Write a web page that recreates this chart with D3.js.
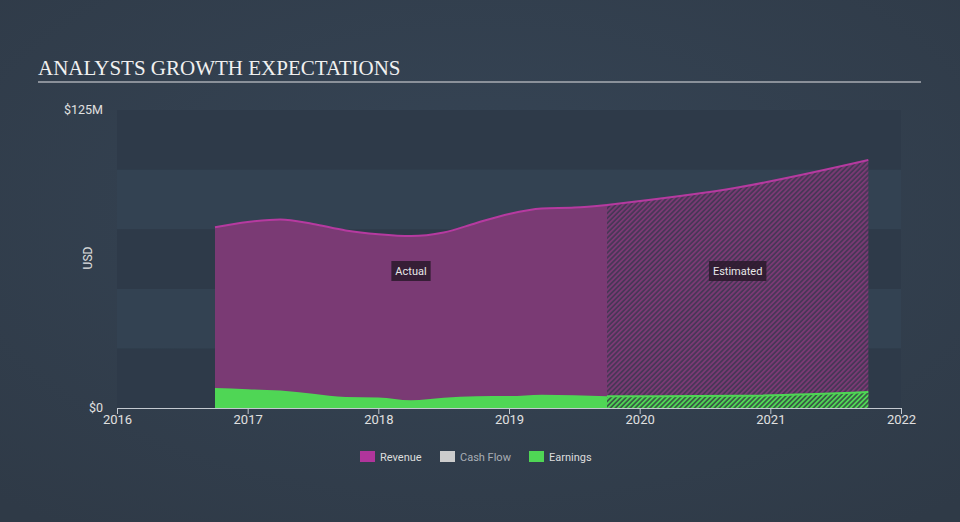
<!DOCTYPE html>
<html><head><meta charset="utf-8">
<script src="https://cdn.jsdelivr.net/npm/d3@7"></script>
<style>
html,body{margin:0;padding:0;background:#323f4e;}
svg{display:block;}
</style></head>
<body>
<svg id="c" width="960" height="522"></svg>
<script>
// Data
const revenueDates = [2016.75,2017.0,2017.25,2017.5,2017.75,2018.0,2018.25,2018.5,2018.75,2019.0,2019.25,2019.5,2019.75];
const revenueValues = [75.8,78.0,79.1,77.2,74.5,72.9,72.1,73.6,77.6,81.4,83.7,84.1,85.2];
const revenueEstDates = [2019.75,2020.75,2021.75];
const revenueEstValues = [85.2,92.5,104.0];
const earningsDates = [2016.75,2017.0,2017.25,2017.5,2017.75,2018.0,2018.25,2018.5,2018.75,2019.0,2019.25,2019.5,2019.75];
const earningsValues = [8.4,7.9,7.3,6.0,4.6,4.4,3.2,4.3,4.9,5.0,5.6,5.3,4.9];
const earningsEstDates = [2019.75,2020.75,2021.75];
const earningsEstValues = [4.9,5.1,6.7];
const xTicks = [2016,2017,2018,2019,2020,2021,2022];
const yTickLabels = ["$0","$125M"];
const legendItems = ["Revenue","Cash Flow","Earnings"];

const svg = d3.select("#c");
const W=960,H=522;
const m={left:117,right:901,top:110,bottom:408};

const defs = svg.append("defs");
const rg = defs.append("radialGradient").attr("id","bg").attr("cx","50%").attr("cy","40%").attr("r","75%");
rg.append("stop").attr("offset","0%").attr("stop-color","#364556");
rg.append("stop").attr("offset","100%").attr("stop-color","#2f3a47");
svg.append("rect").attr("width",W).attr("height",H).attr("fill","url(#bg)");

function hatch(id, bg, fg){
  const p = defs.append("pattern").attr("id",id).attr("patternUnits","userSpaceOnUse")
    .attr("width",3.5).attr("height",3.5).attr("patternTransform","rotate(45)");
  p.append("rect").attr("width",3.5).attr("height",3.5).attr("fill",bg);
  p.append("rect").attr("width",1.8).attr("height",3.5).attr("fill",fg);
}
hatch("hRev","#473656","#7a3a74");
hatch("hEarn","#385a44","#4fd655");

const x = d3.scaleLinear().domain([2016,2022]).range([m.left,m.right]);
const y = d3.scaleLinear().domain([0,125]).range([m.bottom,m.top]);

// bands
const bandVals = d3.range(0,125,25);
svg.selectAll("rect.band").data(bandVals).enter().append("rect")
  .attr("x",m.left).attr("width",m.right-m.left)
  .attr("y",d=>y(d+25)).attr("height",d=>y(d)-y(d+25))
  .attr("fill",(d,i)=> i%2===0 ? "#2e3a49" : "#334252");

// title
svg.append("text").attr("x",38).attr("y",75).text("ANALYSTS GROWTH EXPECTATIONS")
  .attr("font-family","Liberation Serif, Times New Roman, serif").attr("font-size",21)
  .attr("fill","#f0f0f0");
svg.append("line").attr("x1",38).attr("x2",921).attr("y1",82).attr("y2",82)
  .attr("stroke","#a9adb3").attr("stroke-width",1.5);

const curve = d3.curveMonotoneX;
const zip=(ds,vs)=>ds.map((d,i)=>({t:d,v:vs[i]}));
const revA = zip(revenueDates,revenueValues);
const revE = zip(revenueEstDates,revenueEstValues);
const earA = zip(earningsDates,earningsValues);
const earE = zip(earningsEstDates,earningsEstValues);

const area = d3.area().x(d=>x(d.t)).y0(y(0)).y1(d=>y(d.v)).curve(curve);
const line = d3.line().x(d=>x(d.t)).y(d=>y(d.v)).curve(curve);

svg.append("path").attr("d",area(revA)).attr("fill","#7a3a74");
svg.append("path").attr("d",area(revE)).attr("fill","url(#hRev)");
svg.append("path").attr("d",line(revA)).attr("fill","none").attr("stroke","#b63aa0").attr("stroke-width",2);
svg.append("path").attr("d",line(revE)).attr("fill","none").attr("stroke","#b63aa0").attr("stroke-width",2);

svg.append("path").attr("d",area(earA)).attr("fill","#4fd655");
svg.append("path").attr("d",area(earE)).attr("fill","url(#hEarn)");
svg.append("path").attr("d",line(earE)).attr("fill","none").attr("stroke","#4fd655").attr("stroke-width",2);

// annotations
function tag(cx, cy, txt){
  const g = svg.append("g");
  const t = g.append("text").attr("x",cx).attr("y",cy+4).attr("text-anchor","middle")
    .attr("font-family","Roboto, Liberation Sans, Arial, sans-serif").attr("font-size",11)
    .attr("fill","#e8e8e8").text(txt);
  const bb = t.node().getBBox();
  g.insert("rect","text").attr("x",bb.x-4).attr("y",cy-10).attr("width",bb.width+8).attr("height",20)
    .attr("fill","#2a1a2c").attr("opacity",0.85);
}
tag(x((revenueDates[0]+revenueDates[revenueDates.length-1])/2),271,"Actual");
tag(x((revenueEstDates[0]+revenueEstDates[revenueEstDates.length-1])/2),271,"Estimated");

// x axis
const xAxis = d3.axisBottom(x).tickValues(xTicks).tickFormat(d3.format("d")).tickSize(6).tickSizeOuter(0);
const gx = svg.append("g").attr("transform",`translate(0,${m.bottom})`).call(xAxis);
gx.select(".domain").attr("stroke","#c4c9d0");
gx.selectAll(".tick line").attr("stroke","#c4c9d0");
gx.selectAll(".tick text").attr("fill","#e0e0e0").attr("font-size",13)
  .attr("font-family","Roboto, Liberation Sans, Arial, sans-serif").attr("dy","0.55em");

// y labels
svg.selectAll("text.ylab").data([0,125]).enter().append("text")
  .attr("x",103).attr("y",d=>y(d)+4).attr("text-anchor","end")
  .attr("font-family","Roboto, Liberation Sans, Arial, sans-serif").attr("font-size",12.5)
  .attr("fill","#e0e0e0").text((d,i)=>yTickLabels[i]);
svg.append("text").attr("transform","translate(92,258) rotate(-90)").attr("text-anchor","middle")
  .attr("font-family","Roboto, Liberation Sans, Arial, sans-serif").attr("font-size",12)
  .attr("fill","#e0e0e0").text("USD");

// legend
const legColors = ["#b0359b","#cccccc","#4fd655"];
const legX = [360,440,529];
const lg = svg.selectAll("g.leg").data(legendItems).enter().append("g")
  .attr("transform",(d,i)=>`translate(${legX[i]},451)`);
lg.append("rect").attr("width",15).attr("height",11).attr("fill",(d,i)=>legColors[i]);
lg.append("text").attr("x",20).attr("y",9.5).attr("font-size",11)
  .attr("font-family","Roboto, Liberation Sans, Arial, sans-serif")
  .attr("fill",(d,i)=> i===1 ? "#a9aeb5" : "#dddddd").text(d=>d);
</script>
</body></html>
